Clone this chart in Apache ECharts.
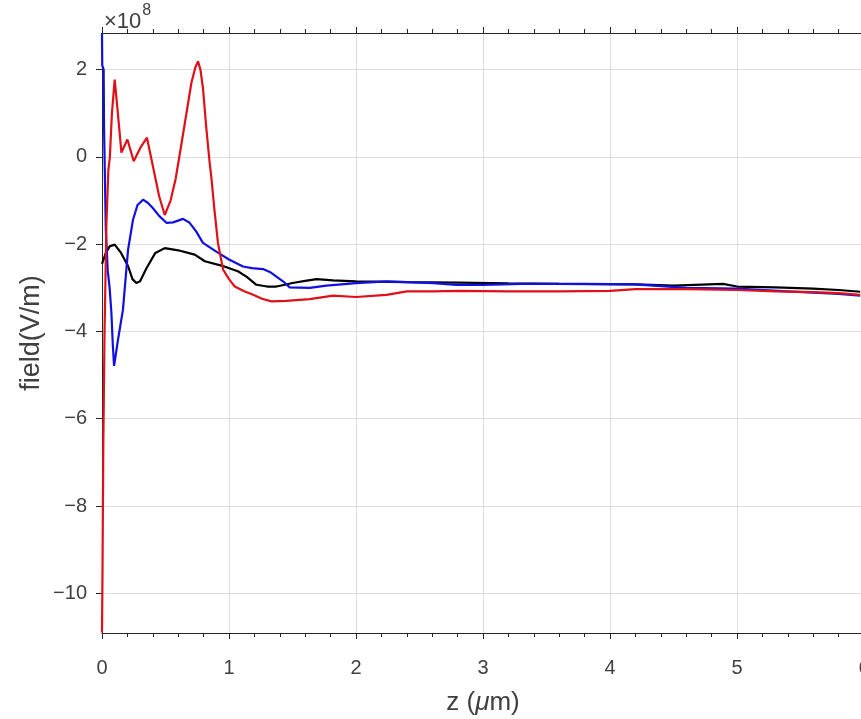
<!DOCTYPE html>
<html>
<head>
<meta charset="utf-8">
<script src="https://cdn.jsdelivr.net/npm/echarts@6/dist/echarts.min.js"></script>
<style>
html,body{margin:0;padding:0;background:#fff;}
#chart{width:861px;height:719px;}
</style>
</head>
<body>
<div id="chart"></div>
<script>
// values in units of 1e8 V/m
var xTicks = [0, 1, 2, 3, 4, 5, 6];
var yTicks = [-10, -8, -6, -4, -2, 0, 2];

var blackZ = [0.0, 0.03, 0.06, 0.1, 0.15, 0.205, 0.24, 0.27, 0.3, 0.35, 0.42, 0.494, 0.6, 0.73, 0.81, 0.94, 1.07, 1.14, 1.216, 1.3, 1.373, 1.44, 1.5, 1.6, 1.69, 1.82, 2.0, 2.4, 2.8, 3.2, 3.6, 4.2, 4.5, 4.89, 5.0, 5.3, 5.6, 5.8, 5.97];
var blackV = [-2.45, -2.2, -2.05, -2.01, -2.2, -2.5, -2.8, -2.89, -2.85, -2.55, -2.2, -2.09, -2.14, -2.24, -2.39, -2.49, -2.62, -2.75, -2.93, -2.97, -2.97, -2.93, -2.89, -2.84, -2.8, -2.83, -2.85, -2.87, -2.88, -2.9, -2.91, -2.92, -2.95, -2.91, -2.97, -2.99, -3.02, -3.05, -3.09];

var blueZ = [0.0, 0.002, 0.013, 0.016, 0.022, 0.03, 0.045, 0.06, 0.074, 0.085, 0.095, 0.11, 0.126, 0.165, 0.205, 0.244, 0.28, 0.323, 0.36, 0.4, 0.45, 0.507, 0.56, 0.638, 0.69, 0.74, 0.795, 0.9, 1.0, 1.11, 1.18, 1.268, 1.33, 1.425, 1.478, 1.635, 1.767, 2.0, 2.24, 2.61, 2.79, 3.0, 3.3, 3.8, 4.2, 4.6, 5.0, 5.4, 5.8, 5.97];
var blueV = [2.84, 2.1, 2.0, 0.7, -0.3, -1.67, -2.6, -3.0, -3.57, -4.3, -4.79, -4.5, -4.19, -3.5, -2.13, -1.44, -1.1, -0.98, -1.05, -1.17, -1.35, -1.51, -1.5, -1.42, -1.51, -1.7, -1.97, -2.17, -2.35, -2.51, -2.55, -2.57, -2.65, -2.85, -2.99, -3.0, -2.95, -2.89, -2.85, -2.89, -2.93, -2.93, -2.91, -2.91, -2.92, -3.0, -3.02, -3.08, -3.14, -3.18];

var redZ = [0.0, 0.004, 0.01, 0.02, 0.035, 0.05, 0.062, 0.078, 0.1, 0.125, 0.153, 0.2, 0.25, 0.3, 0.354, 0.4, 0.45, 0.494, 0.54, 0.58, 0.62, 0.665, 0.704, 0.735, 0.756, 0.775, 0.795, 0.82, 0.848, 0.86, 0.885, 0.913, 0.953, 1.0, 1.045, 1.12, 1.19, 1.26, 1.334, 1.45, 1.635, 1.82, 2.0, 2.24, 2.4, 2.6, 2.82, 3.2, 3.6, 4.0, 4.2, 4.6, 5.0, 5.3, 5.6, 5.8, 5.97];
var redV = [-10.9, -9.5, -6.7, -4.0, -1.5, -0.3, 0.0, 1.0, 1.77, 1.0, 0.1, 0.4, -0.1, 0.2, 0.44, -0.2, -0.9, -1.33, -1.0, -0.5, 0.2, 1.0, 1.7, 2.05, 2.19, 2.0, 1.58, 0.7, -0.14, -0.44, -1.2, -1.97, -2.58, -2.8, -2.97, -3.08, -3.16, -3.25, -3.31, -3.3, -3.26, -3.18, -3.21, -3.16, -3.08, -3.08, -3.07, -3.08, -3.08, -3.07, -3.03, -3.03, -3.05, -3.08, -3.1, -3.12, -3.16];

function pairs(zs, vs){ return zs.map(function(z,i){ return [z, vs[i]]; }); }
function fmt(v){ return String(v).replace('-', '\u2212'); }

var axisColor = '#262626';
var labelColor = '#404040';
var fontFam = '"Liberation Sans", Arial, sans-serif';

var chart = echarts.init(document.getElementById('chart'), null, {renderer:'canvas'});
chart.setOption({
  animation: false,
  backgroundColor: '#ffffff',
  grid: {left: 102, top: 33, width: 762, height: 600, containLabel: false, outerBoundsMode: 'none'},
  graphic: [{
    type: 'text', left: 104, top: 3,
    style: {
      text: '{a|×10}{b|8}',
      rich: {
        a: {fontSize: 22, fontFamily: fontFam, fill: labelColor, padding: [8,0,0,0]},
        b: {fontSize: 16, fontFamily: fontFam, fill: labelColor, verticalAlign: 'top', padding: [0,0,0,1]}
      }
    }
  }],
  xAxis: [{
    type: 'value', min: 0, max: 6, interval: 1, position: 'bottom',
    axisLine: {show: true, onZero: false, lineStyle: {color: axisColor, width: 1}},
    axisTick: {show: true, inside: false, length: 6, lineStyle: {color: axisColor}},
    minorTick: {show: true, splitNumber: 5, length: 4, lineStyle: {color: axisColor}},
    splitLine: {show: true, lineStyle: {color: '#dedede', width: 1}},
    axisLabel: {show: true, margin: 25, fontSize: 20, fontFamily: fontFam, color: labelColor, showMaxLabel: true,
      formatter: function(v){ return xTicks.indexOf(v) >= 0 ? fmt(v) : ''; }},
    name: 'z ({i|μ}m)', nameLocation: 'middle', nameGap: 57,
    nameTextStyle: {fontSize: 26, fontFamily: fontFam, color: labelColor,
      rich: {i: {fontSize: 26, fontFamily: fontFam, fontStyle: 'italic', color: labelColor}}}
  }, {
    type: 'value', min: 0, max: 6, interval: 1, position: 'top',
    axisLine: {show: true, onZero: false, lineStyle: {color: axisColor, width: 1}},
    axisTick: {show: true, inside: false, length: 6, lineStyle: {color: axisColor}},
    minorTick: {show: true, splitNumber: 5, length: 4, lineStyle: {color: axisColor}},
    splitLine: {show: false},
    axisLabel: {show: false}
  }],
  yAxis: [{
    type: 'value', min: -10.91, max: 2.84,
    axisLine: {show: true, onZero: false, lineStyle: {color: axisColor, width: 1}},
    axisTick: {show: true, inside: false, length: 6, customValues: yTicks, lineStyle: {color: axisColor}},
    splitLine: {show: true, lineStyle: {color: '#dedede', width: 1}},
    axisLabel: {show: true, margin: 15, fontSize: 20, fontFamily: fontFam, color: labelColor, customValues: yTicks,
      formatter: function(v){ return fmt(v); }},
    name: 'field(V/m)', nameLocation: 'middle', nameGap: 57, nameRotate: 90, nameMoveOverlap: false,
    nameTextStyle: {fontSize: 27, fontFamily: fontFam, color: labelColor}
  }],
  series: [
    {type: 'line', name: 'black', data: pairs(blackZ, blackV), showSymbol: false, symbol: 'none', smooth: false,
      lineStyle: {color: '#000000', width: 2.2}, itemStyle: {color: '#000000'}, z: 2},
    {type: 'line', name: 'blue', data: pairs(blueZ, blueV), showSymbol: false, symbol: 'none', smooth: false,
      lineStyle: {color: '#1010e0', width: 2.2}, itemStyle: {color: '#1010e0'}, z: 3},
    {type: 'line', name: 'red', data: pairs(redZ, redV), showSymbol: false, symbol: 'none', smooth: false,
      lineStyle: {color: '#e01018', width: 2.2}, itemStyle: {color: '#e01018'}, z: 4}
  ]
});
</script>
</body>
</html>
